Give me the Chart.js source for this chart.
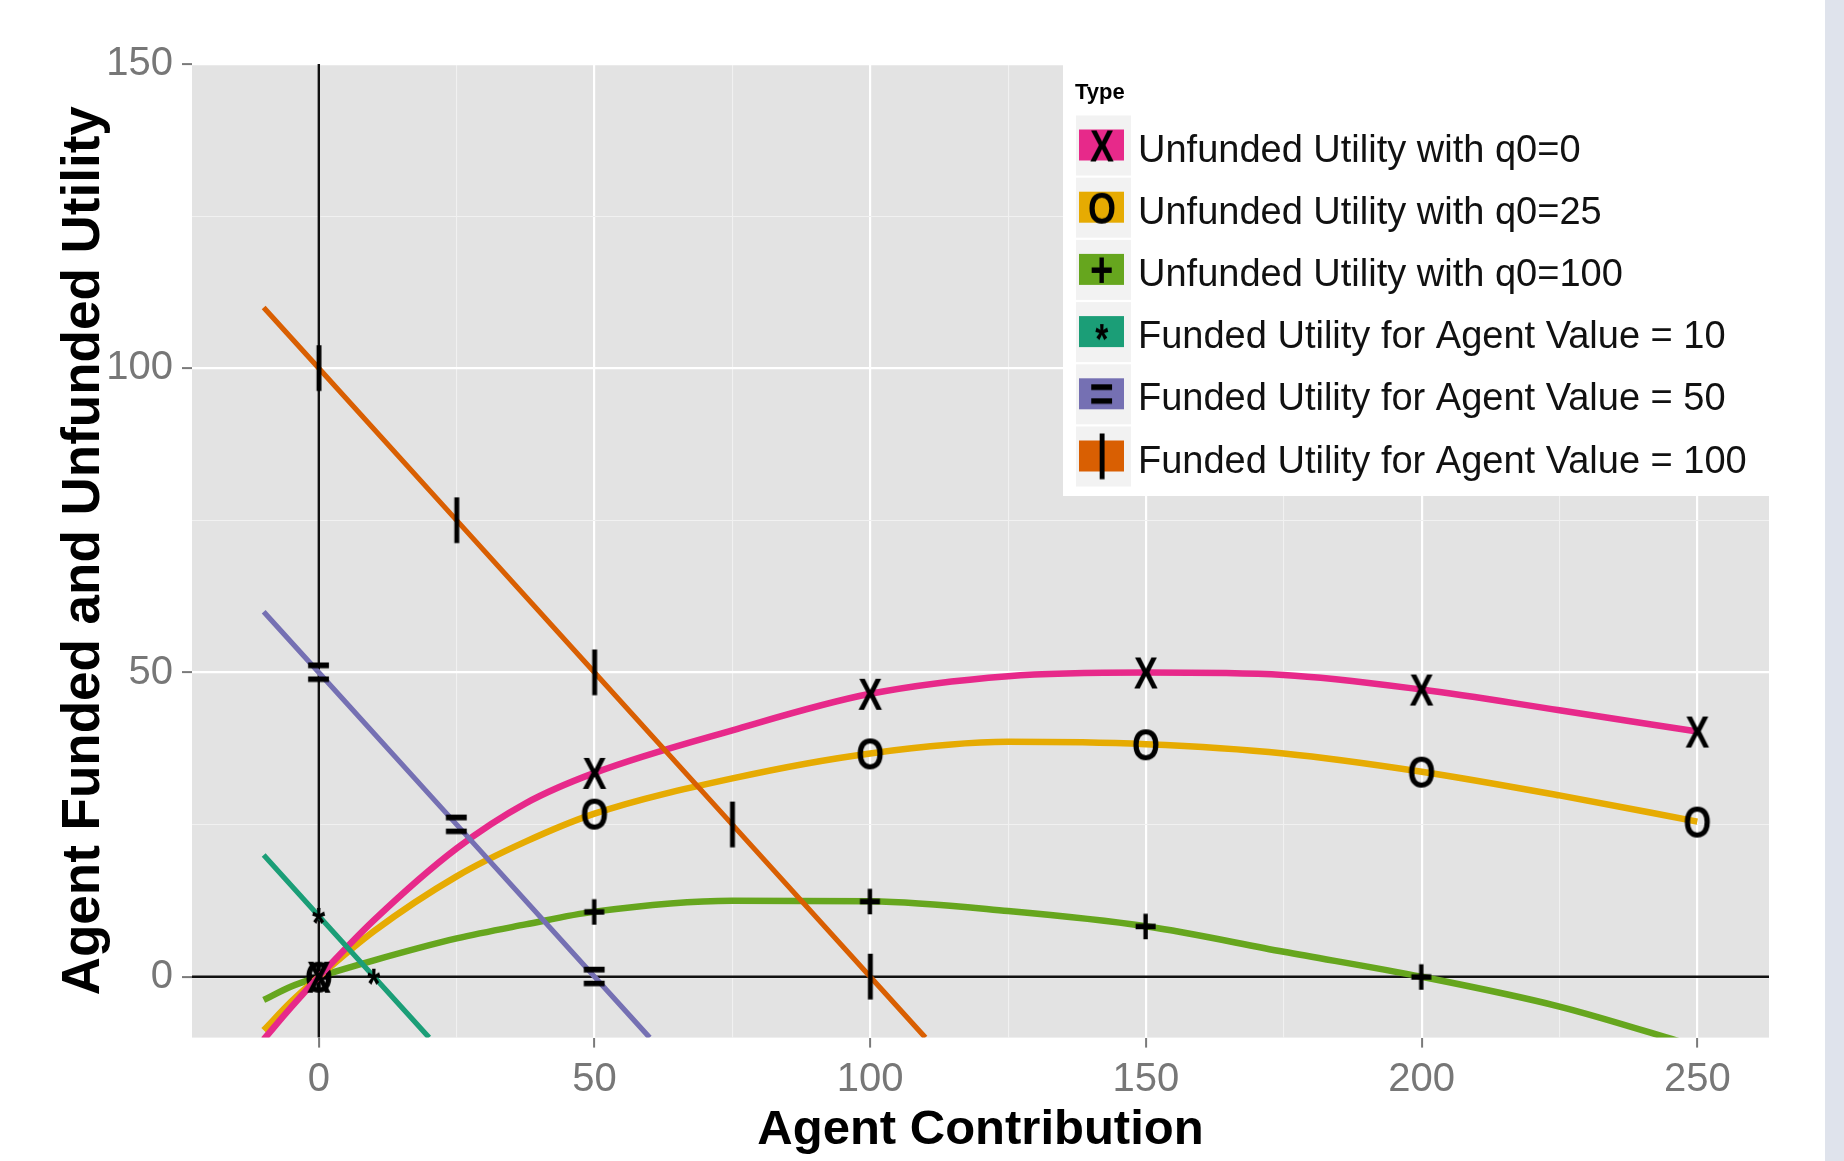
<!DOCTYPE html>
<html>
<head>
<meta charset="utf-8">
<script src="https://cdn.jsdelivr.net/npm/chart.js@4.4.1/dist/chart.umd.min.js"></script>
<style>
  html, body { margin: 0; padding: 0; background: #dfe3ec; }
  #wrap { position: absolute; left: 0; top: 0; width: 1825px; height: 1161px; background: #ffffff; }
</style>
</head>
<body>
<div id="wrap"><canvas id="chart" width="1825" height="1161"></canvas></div>
<script>
// x positions for the unfunded curves
const contributions = [-10, -5, 0, 10, 25, 37.5, 50, 75, 100, 125, 150, 175, 200, 225, 250];
const unfundedQ0   = [-10.3, -5, 0, 9.3, 21.1, 28.5, 33.5, 40.5, 46.5, 49.4, 50, 49.6, 47.2, 43.8, 40.3];
const unfundedQ25  = [-8.8, -4.1, 0, 7.5, 16.5, 22.2, 26.8, 32.6, 36.7, 38.6, 38.2, 36.7, 33.7, 29.8, 25.5];
const unfundedQ100 = [-3.8, -1.6, 0, 2.7, 6.3, 8.6, 10.7, 12.5, 12.4, 10.8, 8.3, 4.1, 0, -4.9, -11.5];

// funded utility lines
const funded10X  = [-10, 0, 10, 20];
const funded10Y  = [20, 10, 0, -10];
const funded50X  = [-10, 0, 25, 50, 60];
const funded50Y  = [60, 50, 25, 0, -10];
const funded100X = [-10, 0, 25, 50, 75, 100, 110];
const funded100Y = [110, 100, 75, 50, 25, 0, -10];

// where the glyph markers sit
const marksQ0   = [0, 50, 100, 150, 200, 250];
const marksQ25  = [0, 50, 100, 150, 200, 250];
const marksQ100 = [0, 50, 100, 150, 200];
const marks10   = [0, 10];
const marks50   = [0, 25, 50];
const marks100  = [0, 25, 50, 75, 100];

const seriesLabels = [
  'Unfunded Utility with q0=0',
  'Unfunded Utility with q0=25',
  'Unfunded Utility with q0=100',
  'Funded Utility for Agent Value = 10',
  'Funded Utility for Agent Value = 50',
  'Funded Utility for Agent Value = 100'
];
const seriesColors = ['#e7298a', '#e6ab02', '#66a61e', '#1b9e77', '#7570b3', '#d95f02'];
const seriesGlyphs = ['X', 'O', '+', '*', '=', '|'];

const xTicksShown = [0, 50, 100, 150, 200, 250];
const yTicksShown = [0, 50, 100, 150];

const FONT = '"Liberation Sans", Arial, Helvetica, sans-serif';

function glyphCanvas(ch) {
  let size = 45;
  if (ch === '=') size = 52;
  if (ch === '+') size = 50;
  if (ch === '|') size = 48;
  if (ch === '*') size = 42;
  const c = document.createElement('canvas');
  c.width = 44; c.height = 64;
  const g = c.getContext('2d');
  g.font = 'bold ' + size + 'px ' + FONT;
  const m = g.measureText(ch);
  g.translate(c.width / 2, c.height / 2);
  g.scale(0.8, 1);
  g.fillStyle = '#000000';
  g.textBaseline = 'alphabetic';
  g.fillText(ch, -(m.actualBoundingBoxRight - m.actualBoundingBoxLeft) / 2,
             (m.actualBoundingBoxAscent - m.actualBoundingBoxDescent) / 2);
  return c;
}
const glyphs = seriesGlyphs.map(glyphCanvas);

function pts(xs, ys) {
  return xs.map((x, i) => ({ x: x, y: ys[i] }));
}

function makeSet(i, xs, ys, marks, curve) {
  return {
    label: seriesLabels[i],
    data: pts(xs, ys),
    showLine: true,
    borderColor: seriesColors[i],
    backgroundColor: seriesColors[i],
    borderWidth: curve ? 6.5 : 5.2,
    tension: curve ? 0.4 : 0,
    cubicInterpolationMode: curve ? 'monotone' : 'default',
    pointStyle: glyphs[i],
    pointRadius: ctx => (ctx.raw && marks.includes(ctx.raw.x)) ? 2 : 0,
    pointHoverRadius: 0,
    order: curve ? 2 : 1,
    clip: 0
  };
}

const datasets = [
  makeSet(0, contributions, unfundedQ0, marksQ0, true),
  makeSet(1, contributions, unfundedQ25, marksQ25, true),
  makeSet(2, contributions, unfundedQ100, marksQ100, true),
  makeSet(3, funded10X, funded10Y, marks10, false),
  makeSet(4, funded50X, funded50Y, marks50, false),
  makeSet(5, funded100X, funded100Y, marks100, false)
];

const panelBg = {
  id: 'panelBg',
  beforeDraw(chart) {
    const { ctx, chartArea: a } = chart;
    ctx.save();
    ctx.fillStyle = '#e3e3e3';
    ctx.fillRect(a.left, a.top, a.right - a.left, a.bottom - a.top);
    ctx.restore();
  }
};

const zeroLines = {
  id: 'zeroLines',
  beforeDatasetsDraw(chart) {
    const { ctx, chartArea: a, scales } = chart;
    const x0 = scales.x.getPixelForValue(0);
    const y0 = scales.y.getPixelForValue(0);
    ctx.save();
    ctx.strokeStyle = '#111111';
    ctx.lineWidth = 2.4;
    ctx.beginPath();
    ctx.moveTo(x0, a.top); ctx.lineTo(x0, a.bottom);
    ctx.moveTo(a.left, y0); ctx.lineTo(a.right, y0);
    ctx.stroke();
    ctx.restore();
  }
};

const typeLegend = {
  id: 'typeLegend',
  afterDraw(chart) {
    const ctx = chart.ctx;
    const a = chart.chartArea;
    const left = 1063, top = 62;
    ctx.save();
    ctx.fillStyle = '#ffffff';
    ctx.fillRect(left, top, a.right - left, 434);
    ctx.fillStyle = '#000000';
    ctx.font = 'bold 22px ' + FONT;
    ctx.textBaseline = 'alphabetic';
    ctx.fillText('Type', 1075, 99);
    chart.data.datasets.forEach((ds, i) => {
      const ky = 115.5 + i * 62.2;
      ctx.fillStyle = '#f2f2f2';
      ctx.fillRect(1076, ky, 55, 60);
      ctx.fillStyle = seriesColors[i];
      ctx.fillRect(1079, ky + 14, 45, 31);
      const gl = glyphs[i];
      ctx.drawImage(gl, 1102 - gl.width / 2, ky + 30 - gl.height / 2);
      ctx.fillStyle = '#111111';
      ctx.font = '38px ' + FONT;
      ctx.fillText(ds.label, 1138, ky + 46);
    });
    ctx.restore();
  }
};

const majorOr = (vals, yes, no) => c => (c.tick && vals.includes(c.tick.value)) ? yes : no;

new Chart(document.getElementById('chart'), {
  type: 'scatter',
  data: { datasets: datasets },
  options: {
    responsive: false,
    animation: false,
    devicePixelRatio: 1,
    layout: { padding: { top: 64, right: 56, bottom: 0, left: 0 } },
    plugins: {
      legend: { display: false },
      tooltip: { enabled: false }
    },
    scales: {
      x: {
        type: 'linear',
        min: -23,
        max: 263,
        afterFit: s => { s.height = 123.4; },
        border: { display: false },
        grid: {
          color: majorOr(xTicksShown, '#ffffff', '#f1f1f1'),
          lineWidth: majorOr(xTicksShown, 2.2, 1.1),
          tickColor: majorOr(xTicksShown, '#7a7a7a', 'rgba(0,0,0,0)'),
          tickLength: 10,
          tickWidth: 2
        },
        ticks: {
          stepSize: 25,
          includeBounds: false,
          autoSkip: false,
          maxRotation: 0,
          padding: 8,
          color: '#777777',
          font: { family: FONT, size: 40 },
          callback: v => xTicksShown.includes(v) ? String(v) : ''
        },
        title: {
          display: true,
          text: 'Agent Contribution',
          color: '#000000',
          font: { family: FONT, size: 49, weight: 'bold' },
          padding: { top: 0, bottom: 1 }
        }
      },
      y: {
        type: 'linear',
        min: -10,
        max: 150,
        afterFit: s => { s.width = 192; },
        border: { display: false },
        grid: {
          color: majorOr(yTicksShown, '#ffffff', '#f1f1f1'),
          lineWidth: majorOr(yTicksShown, 2.2, 1.1),
          tickColor: majorOr(yTicksShown, '#7a7a7a', 'rgba(0,0,0,0)'),
          tickLength: 10,
          tickWidth: 2
        },
        ticks: {
          stepSize: 25,
          includeBounds: false,
          autoSkip: false,
          padding: 9,
          color: '#777777',
          font: { family: FONT, size: 40 },
          callback: v => yTicksShown.includes(v) ? String(v) : ''
        },
        title: {
          display: true,
          text: 'Agent Funded and Unfunded Utility',
          color: '#000000',
          font: { family: FONT, size: 53, weight: 'bold' },
          padding: { top: 53, bottom: 0 }
        }
      }
    }
  },
  plugins: [panelBg, zeroLines, typeLegend]
});
</script>
</body>
</html>
